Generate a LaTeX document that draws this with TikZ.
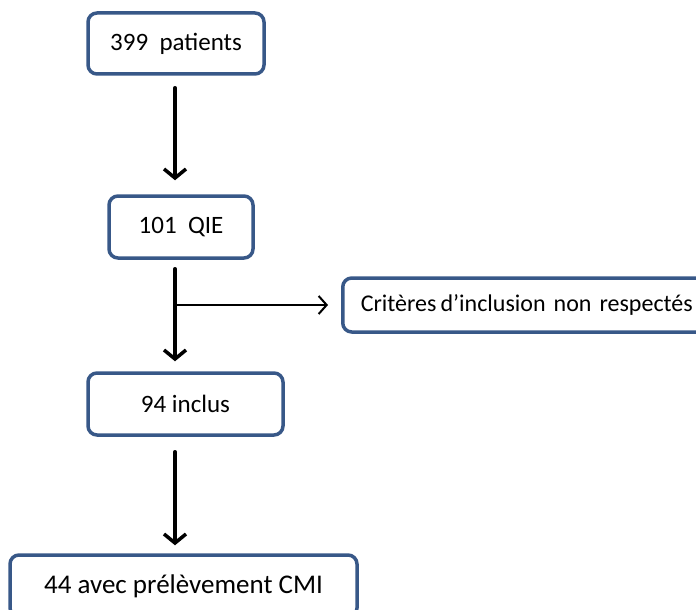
\documentclass[tikz,border=0pt]{standalone}
\usepackage{fontspec}
\setmainfont{Carlito}
\usetikzlibrary{arrows.meta}
\definecolor{boxblue}{RGB}{56,88,136}

\begin{document}
\begin{tikzpicture}[line cap=round,line join=round,x=1pt,y=-1pt,
  box/.style={draw=boxblue,line width=3.5pt,rounded corners=9pt,fill=white,
    inner sep=0pt,font=\fontsize{25}{29}\selectfont},
  arr/.style={line width=3.5pt,-{Straight Barb[length=9pt,width=22pt,line width=3.5pt]}},
  thinarr/.style={line width=2pt,-{Straight Barb[length=8pt,width=18pt,line width=2pt]}}]
\useasboundingbox (0,0) rectangle (696,610);
\coordinate (axis) at (175,0);
\node[box,minimum width=176pt,minimum height=61pt] (n399) at (176,43.5) {399~~patients};
\node[box,minimum width=144pt,minimum height=62pt] (n101) at (181,227) {101~~QIE};
\node[box,minimum width=195pt,minimum height=62pt] (n94) at (185.5,404) {94 inclus};
\node[box,minimum width=347pt,minimum height=62pt,font=\fontsize{27}{31}\selectfont] (n44) at (183.5,586) {44 avec prélèvement CMI\hspace{8pt}};
\node[box,anchor=west,inner xsep=18pt,text width=350pt,align=left,minimum height=54pt,
  font=\fontsize{24}{28}\selectfont] (crit) at (341,305) {Critères\,d’inclusion non respectés};
% fleches
\draw[arr,shorten <=12pt,shorten >=14pt] (n399.south -| axis) -- (n101.north -| axis);
\draw[arr,shorten <=9pt,shorten >=10pt] (n101.south -| axis) -- (n94.north -| axis);
\draw[thinarr,shorten >=13pt] (crit.west -| axis) -- (crit.west);
\draw[arr,shorten <=15pt,shorten >=8pt] (n94.south -| axis) -- (n44.north -| axis);
\end{tikzpicture}
\end{document}
